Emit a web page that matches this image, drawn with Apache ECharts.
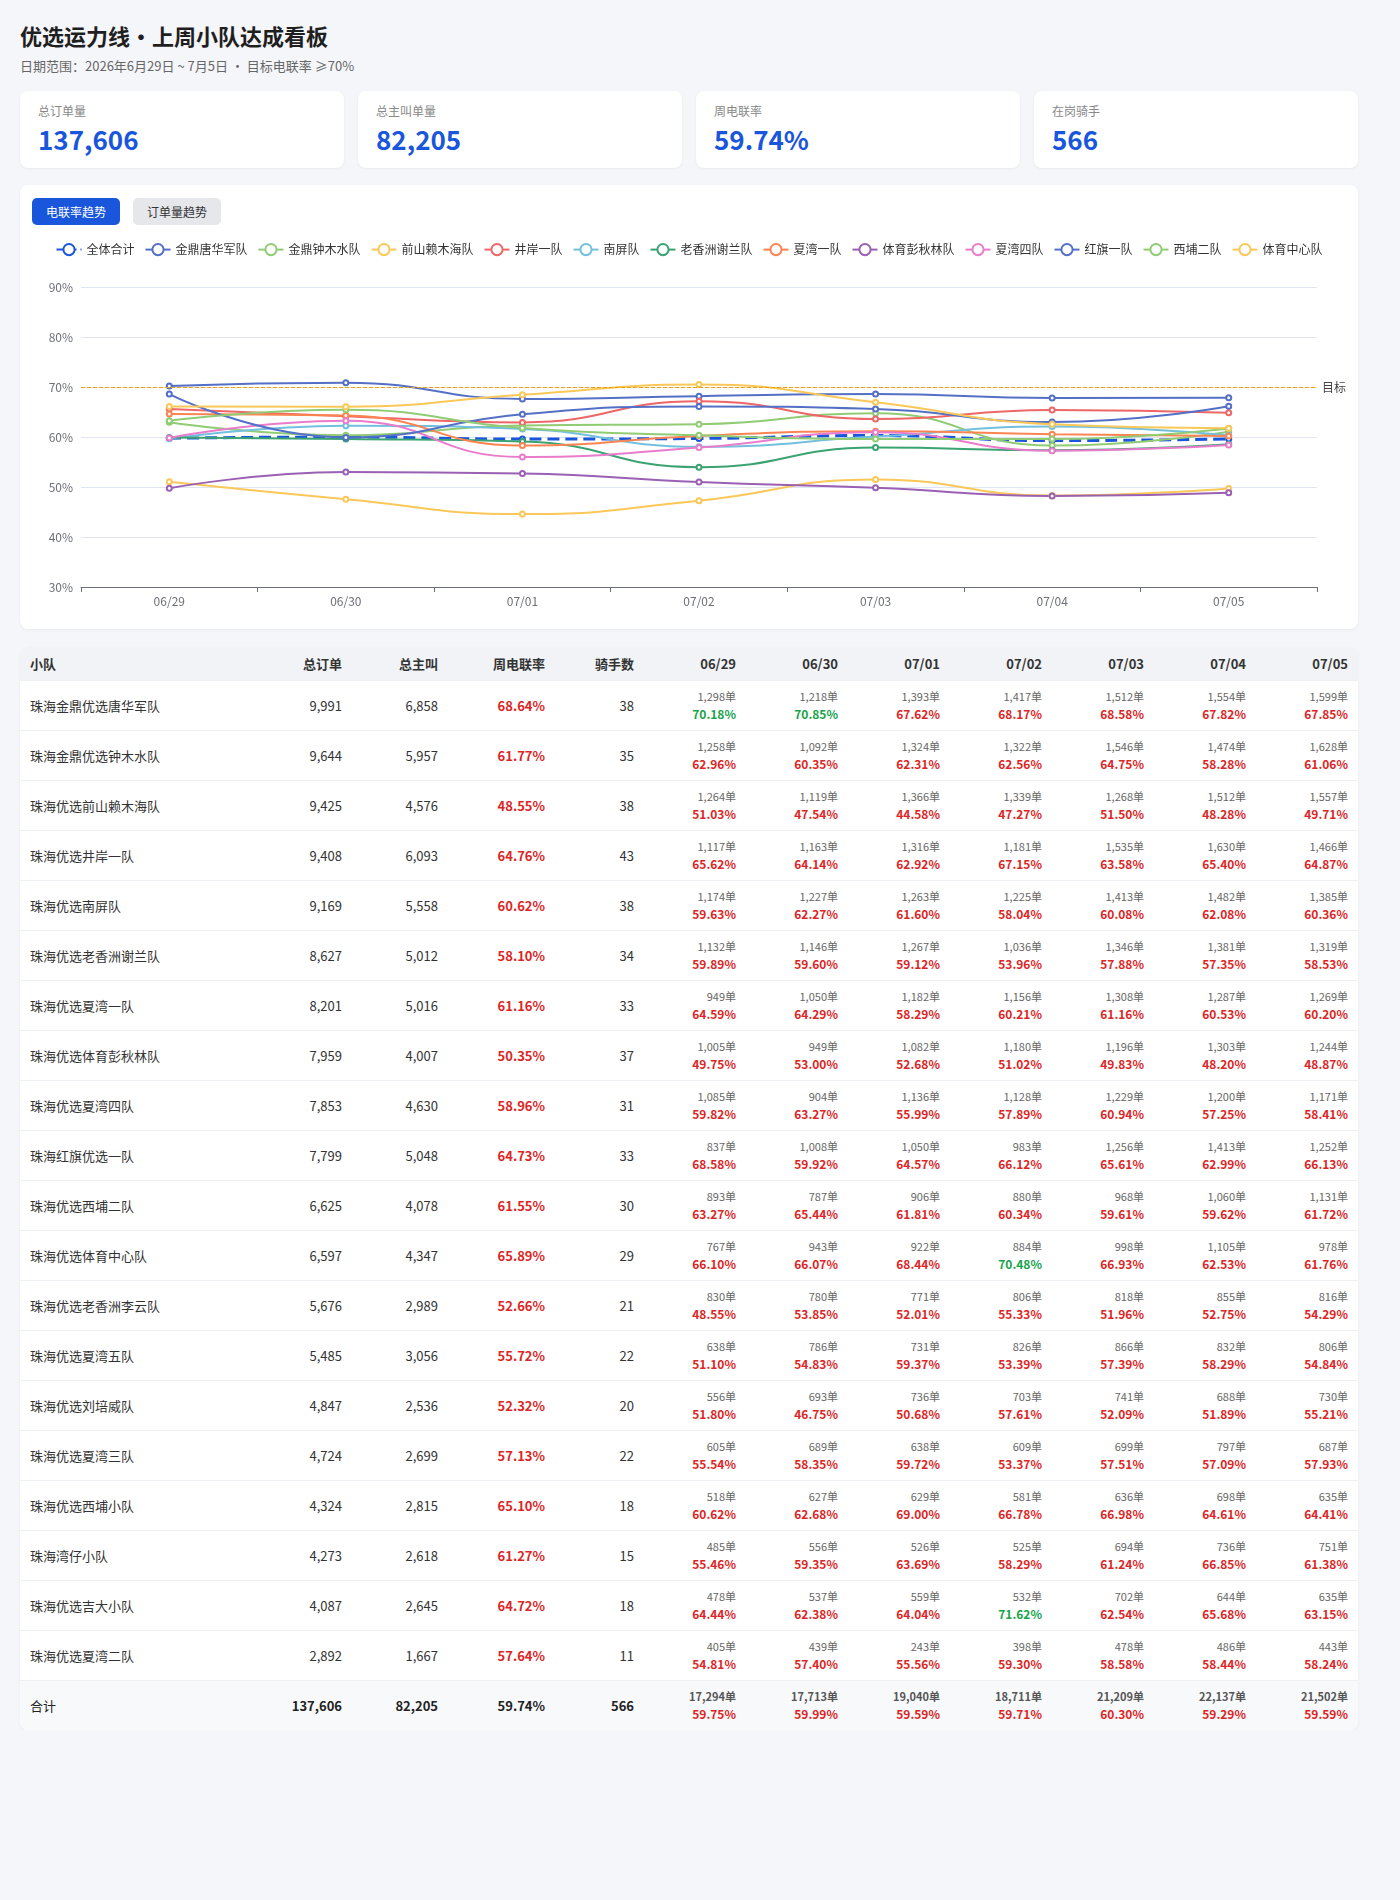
<!DOCTYPE html>
<html>
<head>
<meta charset="utf-8">
<script src="https://cdn.jsdelivr.net/npm/echarts@6/dist/echarts.min.js"></script>
<style>
  * { box-sizing: border-box; }
  body {
    margin: 0;
    background: #f5f6fa;
    font-family: "Noto Sans CJK SC", "Noto Sans", sans-serif;
    color: #222;
  }
  .wrap { width: 1338px; margin-left: 20px; padding-top: 20px; }
  h1 { margin: 0; font-size: 22px; line-height: 30px; font-weight: 700; color: #1f1f1f; }
  .sub { margin-top: 7px; font-size: 13px; line-height: 18px; color: #666; }
  .cards { display: flex; gap: 14px; margin-top: 16px; }
  .card {
    flex: 1; background: #fff; border-radius: 8px; height: 77px;
    padding: 11px 18px 0; box-shadow: 0 1px 3px rgba(0,0,0,0.05);
  }
  .card .lb { font-size: 12px; line-height: 18px; color: #888; }
  .card .val { margin-top: 3px; font-size: 26px; line-height: 32px; font-weight: 700; color: #1a56db; }
  .panel {
    margin-top: 17px; background: #fff; border-radius: 8px;
    padding: 13px 12px 4px; box-shadow: 0 1px 3px rgba(0,0,0,0.05);
  }
  .tabs { display: flex; gap: 13px; height: 27px; }
  .tab {
    width: 88px; height: 27px; line-height: 27px; text-align: center;
    font-size: 12px; border-radius: 5px; background: #e5e7eb; color: #333;
  }
  .tab.on { background: #1a56db; color: #fff; }
  #chart { width: 1314px; height: 400px; }
  .tbl-box {
    margin-top: 18px; background: #fff; border-radius: 8px; overflow: hidden;
    box-shadow: 0 1px 3px rgba(0,0,0,0.05);
  }
  table { width: 1338px; border-collapse: collapse; table-layout: fixed; }
  th {
    background: #f1f3f7; height: 33px; font-size: 13px; font-weight: 700;
    color: #333; text-align: right; padding: 0 10px;
  }
  th.l, td.l { text-align: left; }
  td {
    height: 50px; font-size: 13px; color: #333; text-align: right;
    padding: 0 10px; border-top: 1px solid #eef0f4;
  }
  td.rate { color: #dc2626; font-weight: 700; }
  td .o { font-size: 11px; line-height: 17px; color: #666; }
  td .r { font-size: 12px; line-height: 18px; font-weight: 700; color: #dc2626; }
  td .r.ok { color: #16a34a; }
  tr.total td { background: #f8f9fb; font-weight: 700; color: #222; }
  tr.total td.l { font-weight: 400; }
  tr.total td .o { font-weight: 700; color: #555; }
</style>
</head>
<body>
<div class="wrap">
  <h1>优选运力线•上周小队达成看板</h1>
  <div class="sub">日期范围：2026年6月29日 ~ 7月5日 · 目标电联率 ≥70%</div>
  <div class="cards">
    <div class="card"><div class="lb">总订单量</div><div class="val" id="c1"></div></div>
    <div class="card"><div class="lb">总主叫单量</div><div class="val" id="c2"></div></div>
    <div class="card"><div class="lb">周电联率</div><div class="val" id="c3"></div></div>
    <div class="card"><div class="lb">在岗骑手</div><div class="val" id="c4"></div></div>
  </div>
  <div class="panel">
    <div class="tabs"><div class="tab on">电联率趋势</div><div class="tab">订单量趋势</div></div>
    <div id="chart"></div>
  </div>
  <div class="tbl-box">
    <table id="tbl">
      <colgroup>
        <col style="width:236px"><col style="width:96px"><col style="width:96px">
        <col style="width:107px"><col style="width:89px">
        <col style="width:102px"><col style="width:102px"><col style="width:102px">
        <col style="width:102px"><col style="width:102px"><col style="width:102px">
        <col style="width:102px">
      </colgroup>
    </table>
  </div>
</div>
<script>
// 日期
const days = ['06/29', '06/30', '07/01', '07/02', '07/03', '07/04', '07/05'];
const targetRate = 70;

// 小队
const teamNames = [
  '珠海金鼎优选唐华军队', '珠海金鼎优选钟木水队', '珠海优选前山赖木海队', '珠海优选井岸一队',
  '珠海优选南屏队', '珠海优选老香洲谢兰队', '珠海优选夏湾一队', '珠海优选体育彭秋林队',
  '珠海优选夏湾四队', '珠海红旗优选一队', '珠海优选西埔二队', '珠海优选体育中心队',
  '珠海优选老香洲李云队', '珠海优选夏湾五队', '珠海优选刘培威队', '珠海优选夏湾三队',
  '珠海优选西埔小队', '珠海湾仔小队', '珠海优选吉大小队', '珠海优选夏湾二队'
];
// 图例里的简称（前12个小队）
const shortNames = [
  '金鼎唐华军队', '金鼎钟木水队', '前山赖木海队', '井岸一队', '南屏队', '老香洲谢兰队',
  '夏湾一队', '体育彭秋林队', '夏湾四队', '红旗一队', '西埔二队', '体育中心队'
];
const totalOrders = [9991, 9644, 9425, 9408, 9169, 8627, 8201, 7959, 7853, 7799, 6625, 6597, 5676, 5485, 4847, 4724, 4324, 4273, 4087, 2892];
const totalCalls = [6858, 5957, 4576, 6093, 5558, 5012, 5016, 4007, 4630, 5048, 4078, 4347, 2989, 3056, 2536, 2699, 2815, 2618, 2645, 1667];
const weekRates = [68.64, 61.77, 48.55, 64.76, 60.62, 58.10, 61.16, 50.35, 58.96, 64.73, 61.55, 65.89, 52.66, 55.72, 52.32, 57.13, 65.10, 61.27, 64.72, 57.64];
const riders = [38, 35, 38, 43, 38, 34, 33, 37, 31, 33, 30, 29, 21, 22, 20, 22, 18, 15, 18, 11];

// 每日订单
const dayOrders = [
  [1298, 1218, 1393, 1417, 1512, 1554, 1599],
  [1258, 1092, 1324, 1322, 1546, 1474, 1628],
  [1264, 1119, 1366, 1339, 1268, 1512, 1557],
  [1117, 1163, 1316, 1181, 1535, 1630, 1466],
  [1174, 1227, 1263, 1225, 1413, 1482, 1385],
  [1132, 1146, 1267, 1036, 1346, 1381, 1319],
  [949, 1050, 1182, 1156, 1308, 1287, 1269],
  [1005, 949, 1082, 1180, 1196, 1303, 1244],
  [1085, 904, 1136, 1128, 1229, 1200, 1171],
  [837, 1008, 1050, 983, 1256, 1413, 1252],
  [893, 787, 906, 880, 968, 1060, 1131],
  [767, 943, 922, 884, 998, 1105, 978],
  [830, 780, 771, 806, 818, 855, 816],
  [638, 786, 731, 826, 866, 832, 806],
  [556, 693, 736, 703, 741, 688, 730],
  [605, 689, 638, 609, 699, 797, 687],
  [518, 627, 629, 581, 636, 698, 635],
  [485, 556, 526, 525, 694, 736, 751],
  [478, 537, 559, 532, 702, 644, 635],
  [405, 439, 243, 398, 478, 486, 443]
];
// 每日电联率
const dayRates = [
  [70.18, 70.85, 67.62, 68.17, 68.58, 67.82, 67.85],
  [62.96, 60.35, 62.31, 62.56, 64.75, 58.28, 61.06],
  [51.03, 47.54, 44.58, 47.27, 51.50, 48.28, 49.71],
  [65.62, 64.14, 62.92, 67.15, 63.58, 65.40, 64.87],
  [59.63, 62.27, 61.60, 58.04, 60.08, 62.08, 60.36],
  [59.89, 59.60, 59.12, 53.96, 57.88, 57.35, 58.53],
  [64.59, 64.29, 58.29, 60.21, 61.16, 60.53, 60.20],
  [49.75, 53.00, 52.68, 51.02, 49.83, 48.20, 48.87],
  [59.82, 63.27, 55.99, 57.89, 60.94, 57.25, 58.41],
  [68.58, 59.92, 64.57, 66.12, 65.61, 62.99, 66.13],
  [63.27, 65.44, 61.81, 60.34, 59.61, 59.62, 61.72],
  [66.10, 66.07, 68.44, 70.48, 66.93, 62.53, 61.76],
  [48.55, 53.85, 52.01, 55.33, 51.96, 52.75, 54.29],
  [51.10, 54.83, 59.37, 53.39, 57.39, 58.29, 54.84],
  [51.80, 46.75, 50.68, 57.61, 52.09, 51.89, 55.21],
  [55.54, 58.35, 59.72, 53.37, 57.51, 57.09, 57.93],
  [60.62, 62.68, 69.00, 66.78, 66.98, 64.61, 64.41],
  [55.46, 59.35, 63.69, 58.29, 61.24, 66.85, 61.38],
  [64.44, 62.38, 64.04, 71.62, 62.54, 65.68, 63.15],
  [54.81, 57.40, 55.56, 59.30, 58.58, 58.44, 58.24]
];

// 合计
const sumOrders = 137606;
const sumCalls = 82205;
const sumRate = 59.74;
const sumRiders = 566;
const sumDayOrders = [17294, 17713, 19040, 18711, 21209, 22137, 21502];
const sumDayRates = [59.75, 59.99, 59.59, 59.71, 60.30, 59.29, 59.59];

const fmt = (n) => n.toLocaleString('en-US');
const pct = (v) => v.toFixed(2) + '%';

document.getElementById('c1').textContent = fmt(sumOrders);
document.getElementById('c2').textContent = fmt(sumCalls);
document.getElementById('c3').textContent = pct(sumRate);
document.getElementById('c4').textContent = sumRiders;

// 表格
function dayCell(o, r) {
  const cls = r >= targetRate ? 'r ok' : 'r';
  return '<td><div class="o">' + fmt(o) + '单</div><div class="' + cls + '">' + pct(r) + '</div></td>';
}
let html = '<tr><th class="l">小队</th><th>总订单</th><th>总主叫</th><th>周电联率</th><th>骑手数</th>';
days.forEach(d => { html += '<th>' + d + '</th>'; });
html += '</tr>';
teamNames.forEach((name, i) => {
  html += '<tr><td class="l">' + name + '</td><td>' + fmt(totalOrders[i]) + '</td><td>' + fmt(totalCalls[i]) +
    '</td><td class="rate">' + pct(weekRates[i]) + '</td><td>' + riders[i] + '</td>';
  days.forEach((d, j) => { html += dayCell(dayOrders[i][j], dayRates[i][j]); });
  html += '</tr>';
});
html += '<tr class="total"><td class="l">合计</td><td>' + fmt(sumOrders) + '</td><td>' + fmt(sumCalls) +
  '</td><td class="rate">' + pct(sumRate) + '</td><td>' + sumRiders + '</td>';
days.forEach((d, j) => { html += dayCell(sumDayOrders[j], sumDayRates[j]); });
html += '</tr>';
document.getElementById('tbl').insertAdjacentHTML('beforeend', html);

// 折线图
const chart = echarts.init(document.getElementById('chart'));
const colors = ['#1a56db', '#5470c6', '#91cc75', '#fac858', '#ee6666', '#73c0de', '#3ba272',
  '#fc8452', '#9a60b4', '#ea7ccc', '#5470c6', '#91cc75', '#fac858'];

const series = [{
  name: '全体合计',
  type: 'line',
  smooth: true,
  data: sumDayRates,
  symbol: 'emptyCircle',
  symbolSize: 5,
  z: 3,
  lineStyle: { width: 3, type: 'dashed' },
  markLine: {
    silent: true,
    symbol: 'none',
    data: [{ yAxis: targetRate }],
    lineStyle: { color: '#f59e0b', type: 'dashed', width: 1 },
    label: { formatter: '目标', position: 'end', color: '#444', fontSize: 12 }
  }
}];
shortNames.forEach((n, i) => {
  series.push({
    name: n,
    type: 'line',
    smooth: true,
    data: dayRates[i],
    symbol: 'emptyCircle',
    symbolSize: 5,
    lineStyle: { width: 2 }
  });
});

chart.setOption({
  color: colors,
  animation: false,
  textStyle: { fontFamily: '"Noto Sans CJK SC", "Noto Sans", sans-serif' },
  legend: {
    top: 13,
    left: 'center',
    itemGap: 10,
    itemWidth: 25,
    itemHeight: 14,
    textStyle: { color: '#333', fontSize: 12 }
  },
  tooltip: { trigger: 'axis' },
  grid: { left: 49, right: 29, top: 62, bottom: 38, containLabel: false },
  xAxis: {
    type: 'category',
    boundaryGap: true,
    data: days,
    axisLine: { lineStyle: { color: '#6e7079' } },
    axisTick: { show: true, lineStyle: { color: '#6e7079' } },
    axisLabel: { color: '#6e7079', fontSize: 12, margin: 8 },
    splitLine: { show: false }
  },
  yAxis: {
    type: 'value',
    min: 30,
    max: 90,
    interval: 10,
    axisLine: { show: false },
    axisTick: { show: false },
    axisLabel: { formatter: '{value}%', color: '#6e7079', fontSize: 12 },
    splitLine: { lineStyle: { color: '#e0e6f1' } }
  },
  series: series
});
</script>
</body>
</html>
